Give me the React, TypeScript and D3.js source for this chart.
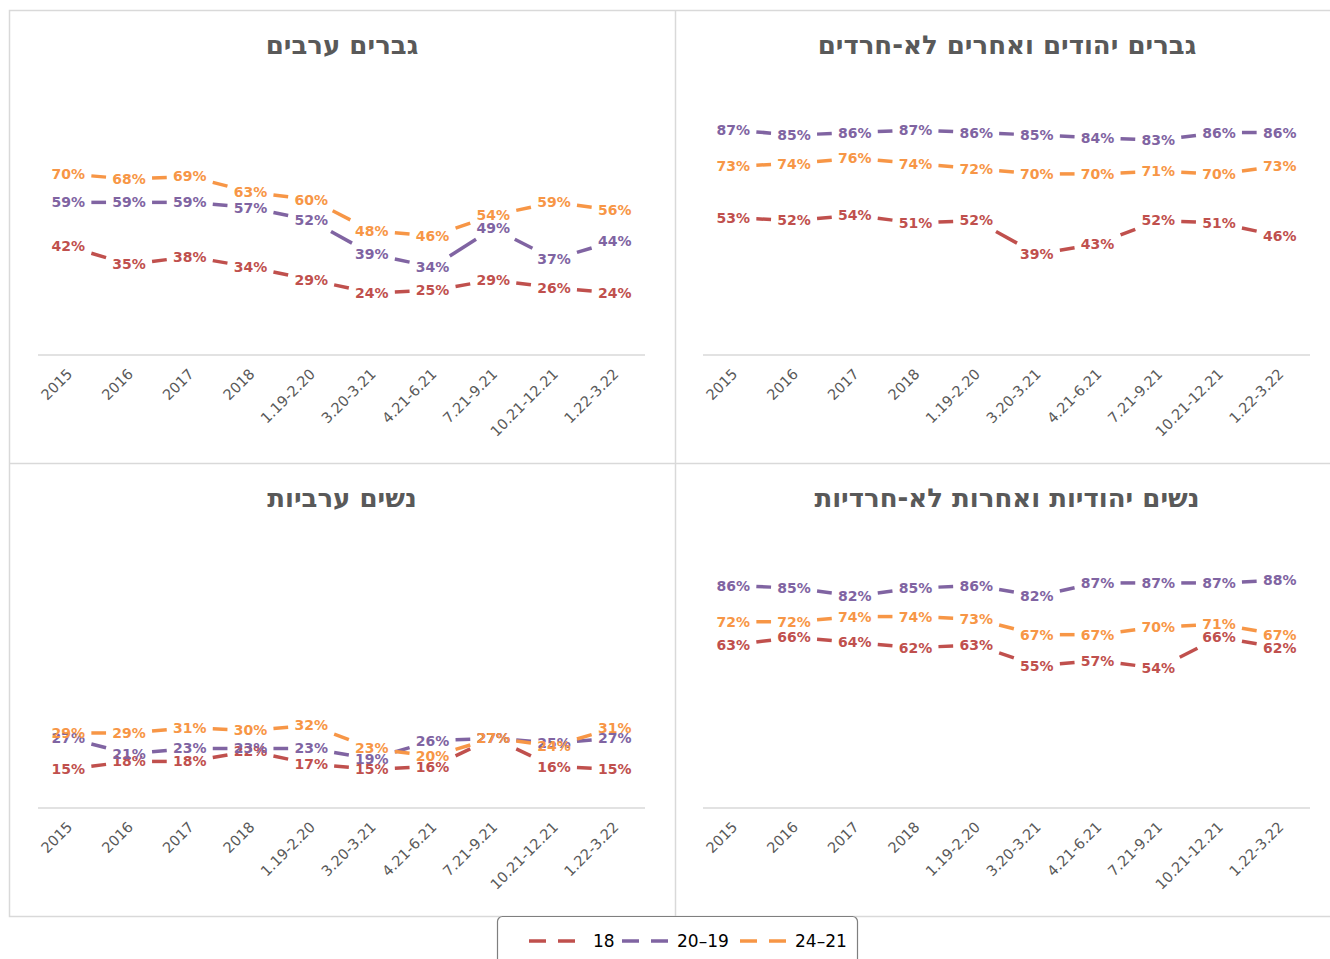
import React from 'react';
import * as d3 from 'd3';

const categories = ['2015', '2016', '2017', '2018', '1.19-2.20', '3.20-3.21', '4.21-6.21', '7.21-9.21', '10.21-12.21', '1.22-3.22'];
const seriesNames = ['18', '20–19', '24–21'];
const colors = ['#C0504D', '#8064A2', '#F79646'];

const arabMen18 = [42, 35, 38, 34, 29, 24, 25, 29, 26, 24];
const arabMen1920 = [59, 59, 59, 57, 52, 39, 34, 49, 37, 44];
const arabMen2124 = [70, 68, 69, 63, 60, 48, 46, 54, 59, 56];

const jewishMen18 = [53, 52, 54, 51, 52, 39, 43, 52, 51, 46];
const jewishMen1920 = [87, 85, 86, 87, 86, 85, 84, 83, 86, 86];
const jewishMen2124 = [73, 74, 76, 74, 72, 70, 70, 71, 70, 73];

const arabWomen18 = [15, 18, 18, 22, 17, 15, 16, 27, 16, 15];
const arabWomen1920 = [27, 21, 23, 23, 23, 19, 26, 27, 25, 27];
const arabWomen2124 = [29, 29, 31, 30, 32, 23, 20, 27, 24, 31];

const jewishWomen18 = [63, 66, 64, 62, 63, 55, 57, 54, 66, 62];
const jewishWomen1920 = [86, 85, 82, 85, 86, 82, 87, 87, 87, 88];
const jewishWomen2124 = [72, 72, 74, 74, 73, 67, 67, 70, 71, 67];

const panels = [
  { title: 'גברים ערבים', left: 10, top: 10, series: [arabMen18, arabMen1920, arabMen2124] },
  { title: 'גברים יהודים ואחרים לא-חרדים', left: 675, top: 10, series: [jewishMen18, jewishMen1920, jewishMen2124] },
  { title: 'נשים ערביות', left: 10, top: 463, series: [arabWomen18, arabWomen1920, arabWomen2124] },
  { title: 'נשים יהודיות ואחרות לא-חרדיות', left: 675, top: 463, series: [jewishWomen18, jewishWomen1920, jewishWomen2124] },
];

const GRAY = '#595959';
const GRID = '#d9d9d9';

const Panel = ({ p }: { p: (typeof panels)[number] }) => {
  // plot area inside each panel
  const x0 = p.left + 28;
  const x1 = p.left + 635;
  const yBase = p.top + 345;

  const x = d3.scaleBand().domain(categories).range([x0, x1]);
  const y = d3.scaleLinear().domain([0, 100]).range([yBase, yBase - 258.7]);
  const cx = (c: string) => (x(c) ?? 0) + x.bandwidth() / 2;

  const hw = 23;
  const hh = 11;

  return (
    <g>
      <text
        x={p.left + 332}
        y={p.top + 35}
        textAnchor="middle"
        dominantBaseline="central"
        fontFamily="'DejaVu Sans', sans-serif"
        fontWeight="bold"
        fontSize={26}
        fill={GRAY}
      >
        {p.title}
      </text>
      <line x1={x0} x2={x1} y1={yBase} y2={yBase} stroke={GRID} strokeWidth={1.5} />
      {categories.map((c) => (
        <text
          key={c}
          transform={`translate(${cx(c) + 5},${yBase + 20}) rotate(-45)`}
          textAnchor="end"
          fontFamily="'DejaVu Sans', sans-serif"
          fontSize={14.5}
          fill={GRAY}
        >
          {c}
        </text>
      ))}
      {p.series.map((vals, si) => (
        <g key={'l' + si}>
          {vals.slice(1).map((v, i) => {
            const ax = cx(categories[i]);
            const ay = y(vals[i]);
            const bx = cx(categories[i + 1]);
            const by = y(v);
            const dx = bx - ax;
            const dy = by - ay;
            const t = Math.min(hw / Math.abs(dx), dy === 0 ? 1 : hh / Math.abs(dy));
            return (
              <line
                key={i}
                x1={ax + dx * t}
                y1={ay + dy * t}
                x2={bx - dx * t}
                y2={by - dy * t}
                stroke={colors[si]}
                strokeWidth={3.5}
              />
            );
          })}
        </g>
      ))}
      {p.series.map((vals, si) => (
        <g key={'t' + si}>
          {vals.map((v, i) => (
            <text
              key={i}
              x={cx(categories[i])}
              y={y(v)}
              textAnchor="middle"
              dominantBaseline="central"
              fontFamily="'DejaVu Sans', sans-serif"
              fontWeight="bold"
              fontSize={14}
              fill={colors[si]}
            >
              {v}%
            </text>
          ))}
        </g>
      ))}
    </g>
  );
};

const legendItems = [
  { x: 529, tx: 593 },
  { x: 622, tx: 677 },
  { x: 740, tx: 795 },
];

export default function App() {
  return (
    <svg width={1330} height={959} style={{ position: 'absolute', left: 0, top: 0 }}>
      <rect x={0} y={0} width={1330} height={959} fill="#fff" />
      <rect x={9.5} y={10.5} width={1330} height={906} fill="none" stroke={GRID} strokeWidth={1.5} />
      <line x1={675.5} x2={675.5} y1={10} y2={916} stroke={GRID} strokeWidth={1.5} />
      <line x1={10} x2={1330} y1={463.5} y2={463.5} stroke={GRID} strokeWidth={1.5} />
      {panels.map((p) => (
        <Panel key={p.title} p={p} />
      ))}
      <rect x={497.5} y={916.5} width={360} height={60} rx={5} fill="#fff" stroke="#7f7f7f" strokeWidth={1.2} />
      {legendItems.map((it, i) => (
        <g key={i}>
          <line
            x1={it.x}
            x2={it.x + 48}
            y1={941}
            y2={941}
            stroke={colors[i]}
            strokeWidth={3.5}
            strokeDasharray="17,12"
          />
          <text
            x={it.tx}
            y={941}
            dominantBaseline="central"
            fontFamily="'DejaVu Sans', sans-serif"
            fontSize={17}
            fill="#000"
          >
            {seriesNames[i]}
          </text>
        </g>
      ))}
    </svg>
  );
}
